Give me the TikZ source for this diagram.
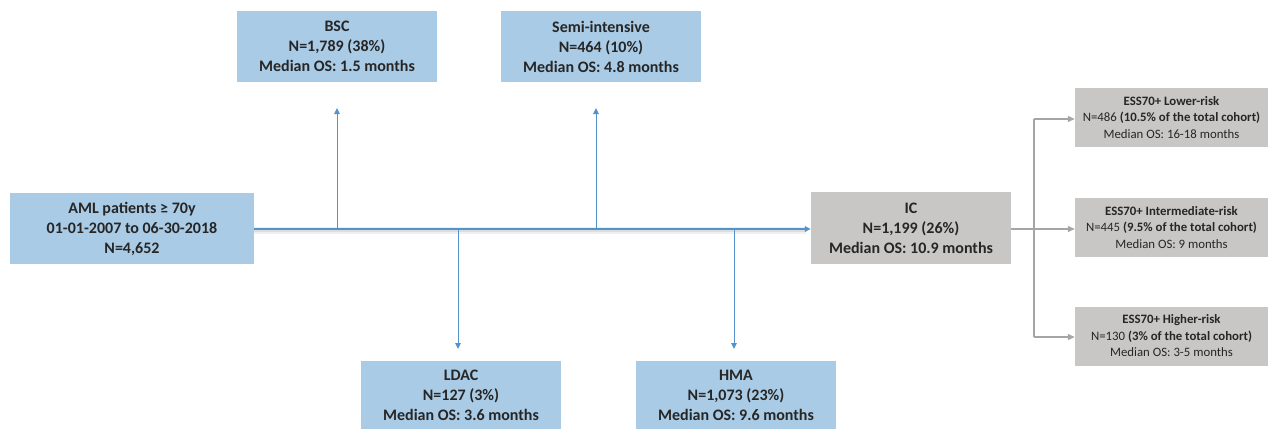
\documentclass[tikz,border=0pt]{standalone}
\usepackage{fontspec}
\setmainfont{Carlito}
\usetikzlibrary{arrows.meta}
\definecolor{boxblue}{RGB}{169,203,229}
\definecolor{boxgray}{RGB}{201,199,197}
\definecolor{lineblue}{RGB}{84,146,206}
\definecolor{linegray}{RGB}{165,165,165}
\definecolor{txt}{RGB}{38,38,38}
\tikzset{
  bigbox/.style={fill=boxblue, inner sep=0pt, minimum width=200pt, minimum height=71pt, align=center,
    text=txt, font=\fontsize{16}{20}\selectfont\bfseries},
  icbox/.style={bigbox, fill=boxgray},
  smallbox/.style={fill=boxgray, inner sep=0pt, minimum width=193pt, minimum height=59pt, align=center,
    text=txt, font=\fontsize{12.8}{16.5}\selectfont},
  bluearrow/.style={draw=lineblue, line width=1pt, -{Triangle[length=6pt,width=5.5pt]}},
  grayarrow/.style={draw=linegray, line width=1.2pt, -{Triangle[length=7pt,width=6pt]}},
  grayline/.style={draw=linegray, line width=1.2pt},
}
\begin{document}
\begin{tikzpicture}[x=1pt,y=-1pt]
\useasboundingbox (0,0) rectangle (1272,429);
% boxes
\node[bigbox, minimum width=244pt] (aml) at (132,228.5) {AML patients ≥ 70y\\01-01-2007 to 06-30-2018\\N=4,652};
\node[bigbox] (bsc) at (337,46.5) {BSC\\N=1,789 (38\%)\\Median OS: 1.5 months};
\node[bigbox] (semi) at (601,46.5) {Semi-intensive\\N=464 (10\%)\\Median OS: 4.8 months};
\node[bigbox, minimum height=68pt] (ldac) at (461,395) {LDAC\\N=127 (3\%)\\Median OS: 3.6 months};
\node[bigbox, minimum height=68pt] (hma) at (736,395) {HMA\\N=1,073 (23\%)\\Median OS: 9.6 months};
\node[icbox, minimum height=72pt] (ic) at (911,228) {IC\\N=1,199 (26\%)\\Median OS: 10.9 months};
\node[smallbox] (low) at (1171.5,117.5) {\textbf{ESS70+ Lower-risk}\\N=486 \textbf{(10.5\% of the total cohort)}\\Median OS: 16-18 months};
\node[smallbox] (mid) at (1171.5,227.5) {\textbf{ESS70+ Intermediate-risk}\\N=445 \textbf{(9.5\% of the total cohort)}\\Median OS: 9 months};
\node[smallbox] (high) at (1171.5,336) {\textbf{ESS70+ Higher-risk}\\N=130 \textbf{(3\% of the total cohort)}\\Median OS: 3-5 months};
% coordinates on main line
\coordinate (jb) at (337,229);
\coordinate (js) at (596,229);
\coordinate (jl) at (458,229);
\coordinate (jh) at (734,229);
\coordinate (tb) at (337,108);
\coordinate (ts) at (596,108);
\coordinate (tl) at (458,349);
\coordinate (th) at (734,349);
\coordinate (g1) at (1034,119);
\coordinate (g3) at (1034,337);
% main line with soft shadow
\draw[line width=7pt, black, opacity=0.06] ([yshift=-1.5pt]aml.east |- 0,229) -- (806,230.5);
\draw[line width=4pt, black, opacity=0.08] ([yshift=-1pt]aml.east |- 0,229) -- (806,230);
\draw[bluearrow, line width=1.5pt] (aml.east |- 0,229) -- (ic.west |- 0,229);
% branches
\draw[bluearrow] (jb) -- (tb);
\draw[bluearrow] (js) -- (ts);
\draw[bluearrow] (jl) -- (tl);
\draw[bluearrow] (jh) -- (th);
% gray connectors
\draw[grayline] (g1) -- (g3);
\draw[grayarrow] (ic.east |- 0,229) -- (mid.west |- 0,229);
\draw[grayarrow] (g1) -- (low.west |- g1);
\draw[grayarrow] (g3) -- (high.west |- g3);
\end{tikzpicture}
\end{document}
